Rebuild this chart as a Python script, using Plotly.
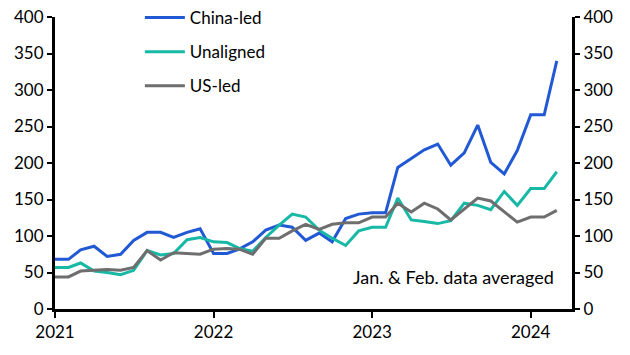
import plotly.graph_objects as go
import pandas as pd

dates = pd.date_range("2021-01-01", "2024-03-01", freq="MS")

china_led = [68, 68, 81, 86, 72, 75, 94, 105, 105, 98, 105, 110,
             76, 76, 82, 92, 108, 115, 112, 94, 104, 92, 124, 130,
             132, 132, 194, 206, 218, 226, 197, 214, 252, 201, 185, 217,
             266, 266, 340]
unaligned = [57, 57, 63, 52, 50, 47, 53, 80, 74, 76, 95, 98,
             92, 91, 83, 79, 98, 115, 130, 126, 108, 97, 87, 107,
             112, 112, 152, 122, 120, 117, 121, 145, 142, 136, 161, 142,
             165, 165, 188]
us_led = [44, 44, 52, 53, 54, 53, 57, 80, 67, 77, 76, 75,
          82, 83, 82, 75, 97, 97, 107, 116, 109, 116, 118, 118,
          126, 126, 145, 133, 145, 137, 122, 137, 152, 148, 133, 119,
          126, 126, 135]

series_names = ["China-led", "Unaligned", "US-led"]
series_colors = ["#2159D4", "#17B8A6", "#6E6E6E"]
y_ticks = [0, 50, 100, 150, 200, 250, 300, 350, 400]
x_ticks = ["2021-01-01", "2022-01-01", "2023-01-01", "2024-01-01"]
x_tick_labels = ["2021", "2022", "2023", "2024"]
note = "Jan. & Feb. data averaged"

FONT = "Lato"

fig = go.Figure()
for name, vals, col in zip(series_names, [china_led, unaligned, us_led], series_colors):
    fig.add_trace(go.Scatter(x=dates, y=vals, name=name, mode="lines",
                             line=dict(color=col, width=3), legendgroup=name))

# invisible trace on right axis
fig.add_trace(go.Scatter(x=dates, y=us_led, yaxis="y2", showlegend=False,
                         mode="lines", line=dict(width=0), hoverinfo="skip",
                         opacity=0))

axis_common = dict(range=[0, 400], tickvals=y_ticks, ticks="outside", ticklen=5,
                   tickwidth=2, tickcolor="black", showline=True, linecolor="black",
                   linewidth=3, showgrid=False, zeroline=False, automargin=False,
                   tickfont=dict(family=FONT, size=17, color="black"))

fig.update_layout(
    width=630, height=355,
    margin=dict(l=55, r=58, t=17, b=46, autoexpand=False),
    plot_bgcolor="white", paper_bgcolor="white",
    font=dict(family=FONT, size=17, color="black"),
    xaxis=dict(range=["2021-01-01", "2024-04-05"], tickvals=x_ticks,
               ticktext=x_tick_labels, ticks="outside", ticklen=6, tickwidth=2,
               tickcolor="black", showline=True, linecolor="black", linewidth=3,
               showgrid=False, zeroline=False, automargin=False,
               tickfont=dict(family=FONT, size=17, color="black")),
    yaxis=dict(side="left", **axis_common),
    yaxis2=dict(side="right", overlaying="y", **axis_common),
    legend=dict(x=0.222, y=1.0, xref="container", yref="container",
                xanchor="left", yanchor="top",
                bgcolor="rgba(0,0,0,0)", font=dict(family=FONT, size=17),
                tracegroupgap=9, itemwidth=40),
    showlegend=True,
    annotations=[dict(text=note, xref="paper", yref="paper", x=0.969, y=0.11,
                      xanchor="right", yanchor="middle", showarrow=False,
                      font=dict(family=FONT, size=18, color="black"))],
)

fig.write_html("out.html", config={"displayModeBar": False},
               post_script="document.body.style.margin='0';")
